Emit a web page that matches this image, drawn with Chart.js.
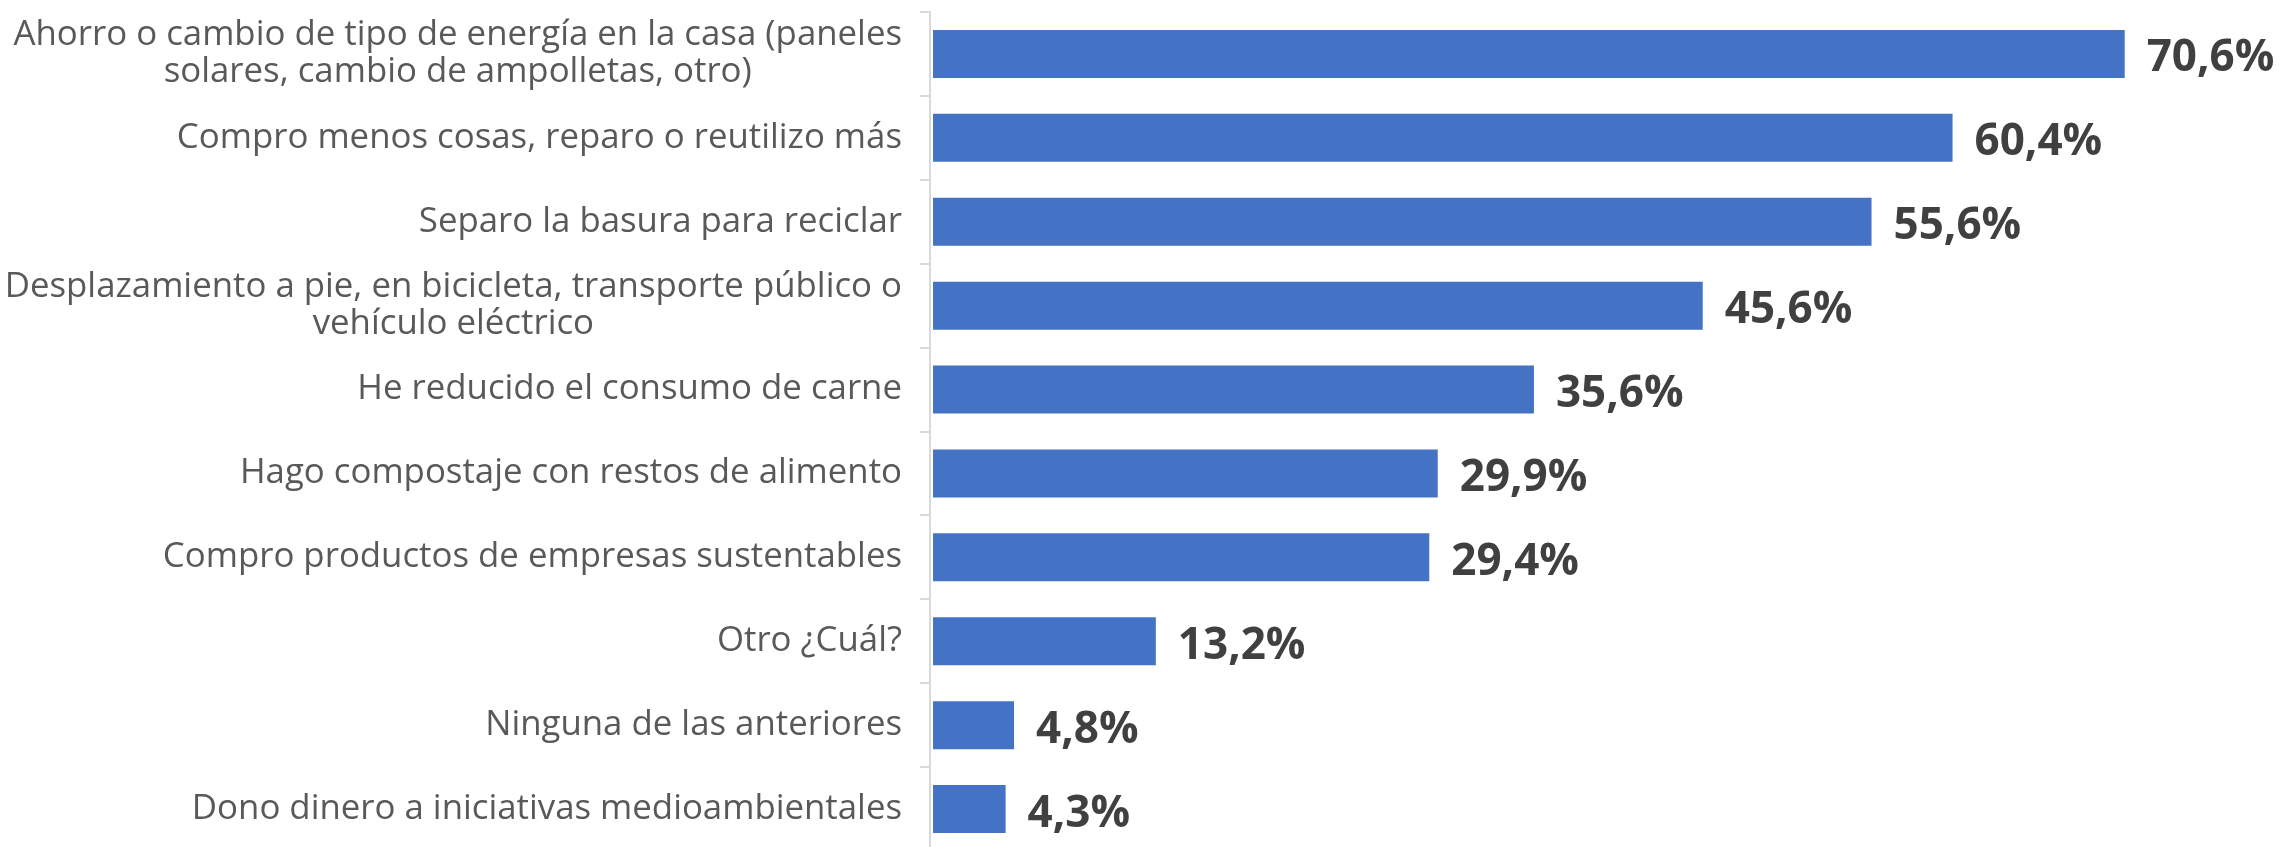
<!DOCTYPE html>
<html>
<head>
<meta charset="utf-8">
<script src="https://cdn.jsdelivr.net/npm/chart.js@4/dist/chart.umd.min.js"></script>
<style>
  html, body { margin: 0; padding: 0; background: #ffffff; overflow: hidden; }
  #wrap { position: relative; width: 2280px; height: 851px; }
</style>
</head>
<body>
<div id="wrap"><canvas id="chart"></canvas></div>
<script>
// categorias (cada linea del texto es un elemento)
var categorias = [
  ["Ahorro o cambio de tipo de energía en la casa (paneles", "solares, cambio de ampolletas, otro)"],
  ["Compro menos cosas, reparo o reutilizo más"],
  ["Separo la basura para reciclar"],
  ["Desplazamiento a pie, en bicicleta, transporte público o", "vehículo eléctrico"],
  ["He reducido el consumo de carne"],
  ["Hago compostaje con restos de alimento"],
  ["Compro productos de empresas sustentables"],
  ["Otro ¿Cuál?"],
  ["Ninguna de las anteriores"],
  ["Dono dinero a iniciativas medioambientales"]
];
var valores = [70.6, 60.4, 55.6, 45.6, 35.6, 29.9, 29.4, 13.2, 4.8, 4.3];

var AZUL = "#4472C4";
var GRIS_LINEA = "#D9D9D9";

function formato(v){
  return v.toFixed(1).replace(".", ",") + "%";
}

// etiquetas del eje: bloque alineado a la derecha, lineas centradas entre si
var etiquetasEje = {
  id: "etiquetasEje",
  afterDraw: function(chart){
    var ctx = chart.ctx;
    var y = chart.scales.y;
    var derecha = chart.chartArea.left - 28;
    var alto = 37;
    ctx.save();
    ctx.font = "400 34.8px 'Open Sans'";
    ctx.fillStyle = "#595959";
    ctx.textAlign = "center";
    ctx.textBaseline = "middle";
    categorias.forEach(function(lineas, i){
      var ancho = 0;
      lineas.forEach(function(l){ ancho = Math.max(ancho, ctx.measureText(l).width); });
      var cx = derecha - ancho / 2;
      var cy = y.getPixelForTick(i) - (lineas.length - 1) * alto / 2;
      lineas.forEach(function(l, k){
        ctx.fillText(l, cx, cy + k * alto);
      });
    });
    ctx.restore();
  }
};

// valores al final de cada barra
var etiquetasValor = {
  id: "etiquetasValor",
  afterDatasetsDraw: function(chart){
    var ctx = chart.ctx;
    var meta = chart.getDatasetMeta(0);
    ctx.save();
    ctx.font = "700 44px 'Open Sans'";
    ctx.fillStyle = "#404040";
    ctx.textAlign = "left";
    ctx.textBaseline = "middle";
    meta.data.forEach(function(bar, i){
      ctx.fillText(formato(valores[i]), bar.x + 22, bar.y + 5);
    });
    ctx.restore();
  }
};

new Chart(document.getElementById("chart"), {
  type: "bar",
  data: {
    labels: categorias,
    datasets: [{
      data: valores,
      backgroundColor: AZUL,
      borderWidth: 0,
      categoryPercentage: 0.572,
      barPercentage: 1
    }]
  },
  options: {
    indexAxis: "y",
    responsive: true,
    maintainAspectRatio: false,
    animation: false,
    layout: { padding: { top: 12, left: 0, right: 0, bottom: 0 } },
    plugins: {
      legend: { display: false },
      tooltip: { enabled: false }
    },
    scales: {
      x: {
        display: false,
        min: -0.18,
        max: 79.8
      },
      y: {
        afterFit: function(s){ s.width = 930; },
        grid: {
          display: true,
          drawOnChartArea: false,
          offset: true,
          tickLength: 10,
          color: GRIS_LINEA,
          lineWidth: 2
        },
        border: { display: true, color: GRIS_LINEA, width: 2 },
        ticks: { display: false }
      }
    }
  },
  plugins: [etiquetasEje, etiquetasValor]
});
</script>
</body>
</html>
